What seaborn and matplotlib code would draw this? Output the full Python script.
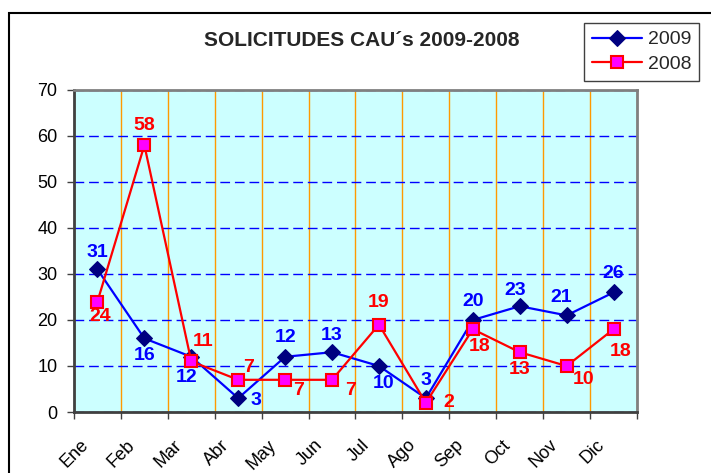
import matplotlib.pyplot as plt
import matplotlib.transforms as mtransforms
from matplotlib.patches import Rectangle
import seaborn as sns
import pandas as pd

meses = ["Ene", "Feb", "Mar", "Abr", "May", "Jun", "Jul", "Ago", "Sep", "Oct", "Nov", "Dic"]
sol_2009 = [31, 16, 12, 3, 12, 13, 10, 3, 20, 23, 21, 26]
sol_2008 = [24, 58, 11, 7, 7, 7, 19, 2, 18, 13, 10, 18]
y_ticks = [0, 10, 20, 30, 40, 50, 60, 70]

# where each value label sits relative to its marker (pixels, up is positive)
off_2009 = [(0, 17), (0, -17), (-5, -21), (18, -2), (0, 19), (0, 17),
            (5, -17), (0, 18), (0, 18), (-5, 16), (-5, 18), (0, 19)]
off_2008 = [(3, -15), (0, 20), (12, 20), (10, 12), (13, -11), (19, -11),
            (0, 22), (23, 0), (7, -17), (0, -17), (17, -14), (7, -22)]

sns.set_style("white")
plt.rcParams['font.family'] = ['Liberation Sans', 'DejaVu Sans']

pos = list(range(len(meses)))
df = pd.DataFrame({"pos": pos, "2009": sol_2009, "2008": sol_2008})

fig = plt.figure(figsize=(7.11, 4.73), dpi=100)
ax = fig.add_axes([74 / 711, 1 - 412 / 473, 563 / 711, 322 / 473])
ax.set_facecolor('#CCFFFF')
ax.set_axisbelow(True)

sns.lineplot(data=df, x="pos", y="2009", ax=ax, color='#0000FF', lw=1.6,
             marker='D', markersize=8, markerfacecolor='#000080',
             markeredgecolor='#000080', label='2009', sort=False)
sns.lineplot(data=df, x="pos", y="2008", ax=ax, color='#FF0000', lw=1.6,
             marker='s', markersize=8, markerfacecolor='#FF00FF',
             markeredgecolor='#FF0000', markeredgewidth=1.5, label='2008', sort=False)

for i, v in enumerate(sol_2009):
    ax.annotate(str(v), (pos[i], v), xytext=off_2009[i], textcoords='offset pixels',
                ha='center', va='center', color='#0000FF', fontsize=14, fontweight='bold')
for i, v in enumerate(sol_2008):
    ax.annotate(str(v), (pos[i], v), xytext=off_2008[i], textcoords='offset pixels',
                ha='center', va='center', color='#FF0000', fontsize=14, fontweight='bold')

ax.set_xlim(-0.5, len(meses) - 0.5)
ax.set_ylim(0, 70)
ax.set_yticks(y_ticks)
ax.set_xticks(pos, meses, rotation=45, ha='right', va='center', rotation_mode='anchor')
ax.set_xticks([p - 0.5 for p in pos] + [len(meses) - 0.5], minor=True)
ax.set_xlabel("")
ax.set_ylabel("")

ax.yaxis.grid(True, color='#0000FF', linestyle=(0, (7, 3.5)), lw=1)
ax.xaxis.grid(True, which='minor', color='#FF9900', lw=1)
ax.xaxis.grid(False, which='major')

ax.tick_params(axis='x', which='major', length=0, pad=22, labelsize=13, labelcolor='black')
ax.tick_params(axis='x', which='minor', length=5, width=1, color='#404040', direction='out', bottom=True)
ax.tick_params(axis='y', length=5, width=1, color='#404040', direction='out', left=True,
               pad=7, labelsize=13, labelcolor='black')
shift = mtransforms.ScaledTranslation(-12 / 100, 0, fig.dpi_scale_trans)
for lab in ax.get_xticklabels():
    lab.set_transform(lab.get_transform() + shift)

for s in ['left', 'bottom']:
    ax.spines[s].set_color('#404040')
    ax.spines[s].set_linewidth(2)
for s in ['top', 'right']:
    ax.spines[s].set_color('#808080')
    ax.spines[s].set_linewidth(2)

fig.text(362 / 711, 1 - 41 / 473, "SOLICITUDES CAU´s 2009-2008", ha='center', va='center',
         fontsize=15, fontweight='bold')

handles, labels = ax.get_legend_handles_labels()
ax.legend(handles, labels, loc='upper left', bbox_to_anchor=(584 / 711, 1 - 23 / 473),
          bbox_transform=fig.transFigure, frameon=True, fancybox=False, edgecolor='#404040',
          framealpha=1, fontsize=14, handlelength=2.6, handletextpad=0.3,
          borderpad=0.4, labelspacing=0.35, borderaxespad=0)

fig.patches.append(Rectangle((9 / 711, -0.05), 1.0, 1 - 13 / 473 + 0.05, transform=fig.transFigure,
                             fill=False, edgecolor='black', lw=1.5))

fig.savefig("out.png", dpi=100, facecolor='white')
plt.close(fig)
